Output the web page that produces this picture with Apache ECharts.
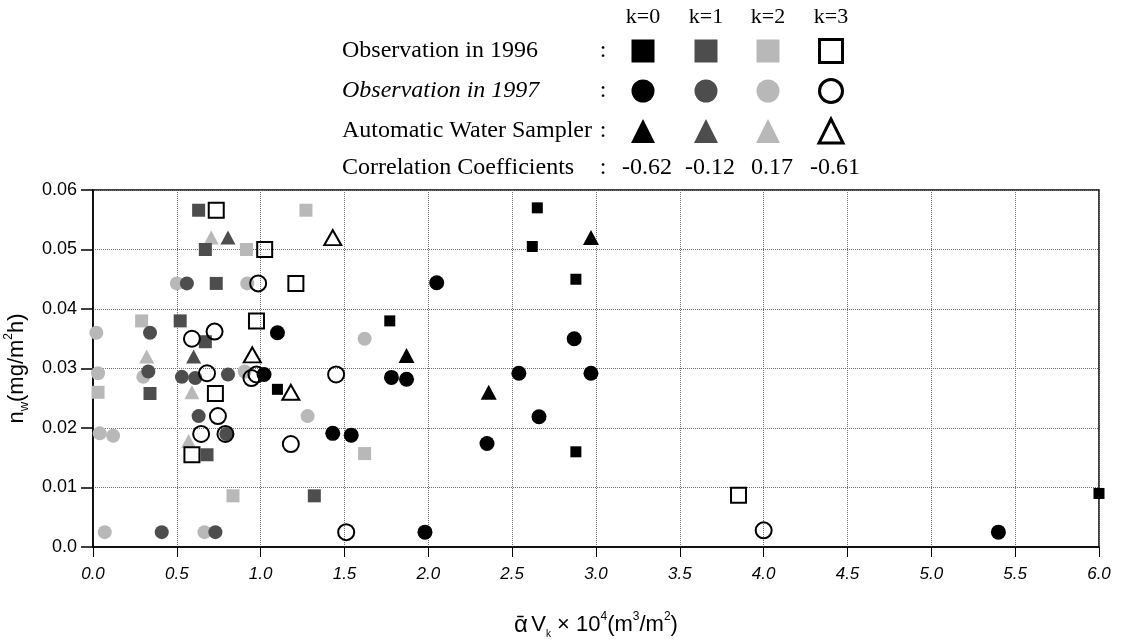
<!DOCTYPE html>
<html><head><meta charset="utf-8">
<script src="https://cdn.jsdelivr.net/npm/echarts@6/dist/echarts.min.js"></script>
<style>html,body{margin:0;padding:0;background:#fff}#c{width:1128px;height:643px}</style>
</head><body><div id="c"></div>
<script>
// ---------- data ----------
const kLabels = ['k=0', 'k=1', 'k=2', 'k=3'];
const rowLabels = ['Observation in 1996', 'Observation in 1997', 'Automatic Water Sampler', 'Correlation Coefficients'];
const corrCoef = ['-0.62', '-0.12', '0.17', '-0.61'];
const xTickStep = 0.5, xMin = 0, xMax = 6;
const yTickStep = 0.01, yMin = 0, yMax = 0.06;

// Observation in 1996 (squares)
const obs96_k0 = [[2.65,0.057],[2.62,0.0505],[2.88,0.045],[1.77,0.038],[1.10,0.0265],[2.88,0.016],[6.0,0.009]];
const obs96_k1 = [[0.63,0.0566],[0.67,0.050],[0.735,0.0443],[0.52,0.038],[0.67,0.0345],[0.34,0.0258],[0.68,0.0155],[1.32,0.0086]];
const obs96_k2 = [[1.27,0.0566],[0.915,0.050],[0.29,0.038],[0.03,0.026],[1.62,0.0157],[0.835,0.0086]];
const obs96_k3 = [[0.735,0.0566],[1.024,0.050],[1.21,0.0443],[0.975,0.038],[0.73,0.0258],[0.59,0.0155],[3.85,0.0087]];
// Observation in 1997 (circles)
const obs97_k0 = [[2.05,0.0444],[1.10,0.036],[2.87,0.035],[1.02,0.029],[1.78,0.0285],[1.87,0.0282],[2.54,0.0292],[2.97,0.0292],[2.66,0.0219],[1.43,0.0191],[1.54,0.0188],[2.35,0.0174],[1.98,0.0025],[5.40,0.0025]];
const obs97_k1 = [[0.56,0.0443],[0.34,0.036],[0.33,0.0295],[0.53,0.0286],[0.61,0.0284],[0.805,0.029],[0.63,0.022],[0.795,0.019],[0.41,0.0025],[0.73,0.0025]];
const obs97_k2 = [[0.50,0.0443],[0.92,0.0443],[0.02,0.036],[1.62,0.035],[0.03,0.0292],[0.30,0.0286],[0.905,0.0295],[1.28,0.022],[0.04,0.0191],[0.12,0.0187],[0.07,0.0025],[0.665,0.0025]];
const obs97_k3 = [[0.985,0.0443],[0.59,0.035],[0.725,0.0362],[0.68,0.0292],[0.945,0.0284],[0.975,0.029],[1.45,0.029],[0.745,0.022],[0.645,0.019],[0.79,0.019],[1.18,0.0173],[1.51,0.0025],[4.0,0.0028]];
// Automatic Water Sampler (triangles)
const aws_k0 = [[2.97,0.052],[1.87,0.0322],[2.36,0.026]];
const aws_k1 = [[0.805,0.052],[0.60,0.032]];
const aws_k2 = [[0.705,0.052],[0.32,0.032],[0.59,0.026],[0.57,0.0178]];
const aws_k3 = [[1.43,0.052],[0.95,0.0323],[1.18,0.026]];

// ---------- styles ----------
const fills = ['#000000', '#4d4d4d', '#b8b8b8', 'rgba(255,255,255,0)'];
const sqSize = [11, 13, 13, 15];
const ciSize = [15, 14, 14, 16];

function mk(name, data, symbol, k, size) {
  return {
    name: name, type: 'scatter', data: data, symbol: symbol, symbolSize: size,
    z: k === 3 ? 5 : 3 + (k === 0 ? 1 : 0),
    itemStyle: {
      color: fills[k],
      borderColor: k === 3 ? '#000' : fills[k],
      borderWidth: k === 3 ? 2 : 0,
      opacity: 1
    },
    emphasis: { disabled: true }, silent: true
  };
}

const series = [
  mk('1996 k=2', obs96_k2, 'rect', 2, sqSize[2]),
  mk('1997 k=2', obs97_k2, 'circle', 2, ciSize[2]),
  mk('AWS k=2', aws_k2, 'triangle', 2, [15, 14]),
  mk('1996 k=1', obs96_k1, 'rect', 1, sqSize[1]),
  mk('1997 k=1', obs97_k1, 'circle', 1, ciSize[1]),
  mk('AWS k=1', aws_k1, 'triangle', 1, [15, 14]),
  mk('1996 k=0', obs96_k0, 'rect', 0, sqSize[0]),
  mk('1997 k=0', obs97_k0, 'circle', 0, ciSize[0]),
  mk('AWS k=0', aws_k0, 'triangle', 0, [16, 15]),
  mk('1996 k=3', obs96_k3, 'rect', 3, sqSize[3]),
  mk('1997 k=3', obs97_k3, 'circle', 3, ciSize[3]),
  mk('AWS k=3', aws_k3, 'triangle', 3, [17, 15])
];

// ---------- legend table (graphic) ----------
const colX = [643, 706, 768, 831];
const rowY = [51, 91, 131, 168];
const serif = '"Liberation Serif", "Times New Roman", serif';
const graphic = [];
kLabels.forEach((t, i) => graphic.push({ type: 'text', x: colX[i], y: 17, style: { text: t, font: '22px ' + serif, fill: '#000', textAlign: 'center', textVerticalAlign: 'middle' } }));
rowLabels.forEach((t, r) => {
  graphic.push({ type: 'text', x: 342, y: rowY[r], style: { text: t, font: (r === 1 ? 'italic ' : '') + '24px ' + serif, fill: '#000', textAlign: 'left', textVerticalAlign: 'middle' } });
  graphic.push({ type: 'text', x: 603, y: rowY[r], style: { text: ':', font: '24px ' + serif, fill: '#000', textAlign: 'center', textVerticalAlign: 'middle' } });
});
const legFill = ['#000', '#4d4d4d', '#b8b8b8', '#fff'];
for (let k = 0; k < 4; k++) {
  const st = { fill: legFill[k], stroke: k === 3 ? '#000' : legFill[k], lineWidth: k === 3 ? 3 : 0 };
  graphic.push({ type: 'rect', shape: { x: colX[k] - 11.5, y: rowY[0] - 11.5, width: 23, height: 23 }, style: st });
  graphic.push({ type: 'circle', shape: { cx: colX[k], cy: rowY[1], r: 11.5 }, style: st });
  graphic.push({ type: 'polygon', shape: { points: [[colX[k], rowY[2] - 12], [colX[k] - 12, rowY[2] + 12], [colX[k] + 12, rowY[2] + 12]] }, style: st });
  graphic.push({ type: 'text', x: colX[k] + 4, y: rowY[3], style: { text: corrCoef[k], font: '24px ' + serif, fill: '#000', textAlign: 'center', textVerticalAlign: 'middle' } });
}

const sans = '"Liberation Sans", Arial, sans-serif';
const chart = echarts.init(document.getElementById('c'), null, { renderer: 'canvas' });
chart.setOption({
  backgroundColor: '#fff',
  animation: false,
  grid: { left: 93, right: 29, top: 190, bottom: 96, containLabel: false, outerBoundsMode: 'none', show: true, borderColor: '#000', borderWidth: 1.5, backgroundColor: 'transparent' },
  xAxis: {
    type: 'value', min: xMin, max: xMax, interval: xTickStep,
    axisLine: { lineStyle: { color: '#000', width: 1.5 } },
    axisTick: { show: true, length: 10, lineStyle: { color: '#000', width: 1 } },
    axisLabel: { margin: 19, color: '#000', fontFamily: sans, fontSize: 17, fontStyle: 'italic', formatter: v => v.toFixed(1) },
    splitLine: { show: true, lineStyle: { color: '#6e6e6e', type: 'dotted', width: 1 } },
    name: '{a|ᾱ} {n|V}{s|k}{n| × 10}{p|4}{n|(m}{p|3}{n|/m}{p|2}{n|)}',
    nameLocation: 'middle', nameGap: 64,
    nameTextStyle: {
      rich: {
        a: { fontFamily: sans, fontSize: 24, color: '#000', lineHeight: 28 },
        n: { fontFamily: sans, fontSize: 22, color: '#000', lineHeight: 28 },
        s: { fontFamily: sans, fontSize: 10, color: '#000', verticalAlign: 'bottom' },
        p: { fontFamily: sans, fontSize: 12, color: '#000', verticalAlign: 'top' }
      }
    }
  },
  yAxis: {
    type: 'value', min: yMin, max: yMax, interval: yTickStep,
    axisLine: { show: true, lineStyle: { color: '#000', width: 1.5 } },
    axisTick: { show: true, length: 12, lineStyle: { color: '#000', width: 1.5 } },
    axisLabel: { margin: 16, color: '#000', fontFamily: sans, fontSize: 18, formatter: v => (v === 0 ? '0.0' : v.toFixed(2)) },
    splitLine: { show: true, lineStyle: { color: '#6e6e6e', type: 'dotted', width: 1 } },
    name: '{n|n}{s|w}{n|(mg/m}{p|2}{n|h)}',
    nameLocation: 'middle', nameGap: 60, nameRotate: 90,
    nameTextStyle: {
      rich: {
        n: { fontFamily: sans, fontSize: 22, color: '#000', lineHeight: 28 },
        s: { fontFamily: sans, fontSize: 13, color: '#000', verticalAlign: 'bottom' },
        p: { fontFamily: sans, fontSize: 12, color: '#000', verticalAlign: 'top' }
      }
    }
  },
  graphic: graphic,
  series: series
});
</script></body></html>
